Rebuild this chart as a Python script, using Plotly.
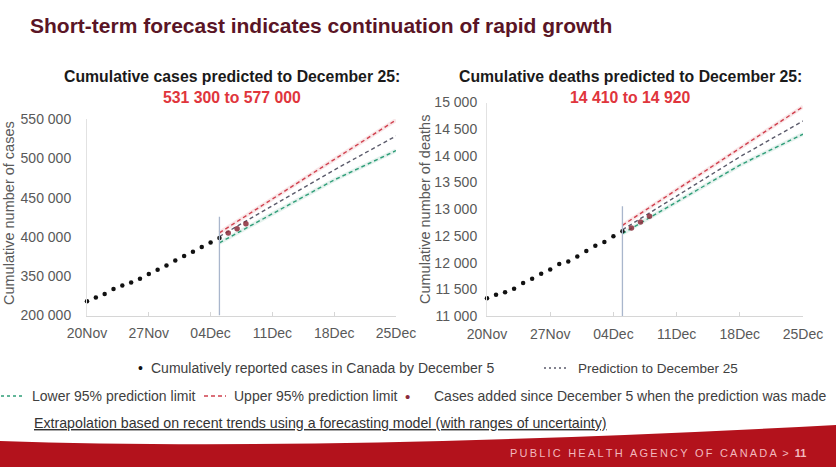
import plotly.graph_objects as go

W, H = 836, 467

# ---------------- data ----------------
reported_dates = ["2020-11-%02d" % d for d in range(20, 31)] + ["2020-12-%02d" % d for d in range(1, 6)]
cases_reported = [318000, 323000, 327400, 333700, 338300, 342100, 346800, 352800,
                  358200, 363700, 370000, 375600, 381100, 387100, 392900, 398500]
deaths_reported = [11334, 11398, 11447, 11511, 11616, 11699, 11792, 11873,
                   11973, 12023, 12117, 12217, 12318, 12386, 12493, 12587]

added_dates = ["2020-12-06", "2020-12-07", "2020-12-08"]
cases_added = [405000, 410300, 416600]
deaths_added = [12649, 12762, 12869]

pred_dates = ["2020-12-05", "2020-12-18", "2020-12-25"]
cases_pred = [400500, 485200, 528400]
cases_upper = [405200, 497900, 548700]
cases_lower = [392500, 472500, 509800]
deaths_pred = [12615, 13982, 14653]
deaths_upper = [12699, 14140, 14921]
deaths_lower = [12544, 13826, 14408]

prediction_date = "2020-12-05"
cases_marker_top = 425500
deaths_marker_top = 13056

x_tickvals = ["2020-11-20", "2020-11-27", "2020-12-04", "2020-12-11", "2020-12-18", "2020-12-25"]
x_ticktext = ["20Nov", "27Nov", "04Dec", "11Dec", "18Dec", "25Dec"]
cases_tickvals = [300000, 350000, 400000, 450000, 500000, 550000]
cases_ticktext = ["200 000", "350 000", "400 000", "450 000", "500 000", "550 000"]
deaths_tickvals = [11000, 11500, 12000, 12500, 13000, 13500, 14000, 14500, 15000]
deaths_ticktext = ["11 000", "11 500", "12 000", "12 500", "13 000", "13 500", "14 000", "14 500", "15 000"]

# ---------------- style ----------------
FONT = "Liberation Sans, Arial, sans-serif"
C_PRED = "#5b5b6b"
C_UP = "#d0404e"
C_LOW = "#2f9e78"
C_ADDED = "#8b2b3a"
C_TICK = "#595959"


def px(x):
    return x / W


def py(y):
    return 1 - y / H


fig = go.Figure()


def add_panel(xa, ya, rep, added, pred, up, low):
    for ys, col in [(up, C_UP), (low, C_LOW)]:
        fig.add_trace(go.Scatter(x=pred_dates, y=ys, mode="lines", xaxis=xa, yaxis=ya,
                                 line=dict(color=col, width=4), opacity=0.12,
                                 showlegend=False, hoverinfo="skip"))
    for ys, col in [(up, C_UP), (pred, C_PRED), (low, C_LOW)]:
        fig.add_trace(go.Scatter(x=pred_dates, y=ys, mode="lines", xaxis=xa, yaxis=ya,
                                 line=dict(color=col, width=1.4, dash="4px,3px"),
                                 showlegend=False))
    fig.add_trace(go.Scatter(x=reported_dates, y=rep, mode="markers", xaxis=xa, yaxis=ya,
                             marker=dict(color="#111111", size=4.5), cliponaxis=False,
                             showlegend=False))
    fig.add_trace(go.Scatter(x=added_dates, y=added, mode="markers", xaxis=xa, yaxis=ya,
                             marker=dict(color=C_ADDED, size=5.5, opacity=0.85),
                             cliponaxis=False, showlegend=False))


add_panel("x", "y", cases_reported, cases_added, cases_pred, cases_upper, cases_lower)
add_panel("x2", "y2", deaths_reported, deaths_added, deaths_pred, deaths_upper, deaths_lower)

xaxis_common = dict(type="date", range=["2020-11-20", "2020-12-25"], tickvals=x_tickvals,
                    ticktext=x_ticktext, showgrid=False, zeroline=False, showline=True,
                    linecolor="#d6d6d6", linewidth=1, ticks="inside", ticklen=4,
                    tickcolor="#d6d6d6", tickfont=dict(family=FONT, size=14, color=C_TICK),
                    ticklabelstandoff=5, automargin=False)
yaxis_common = dict(showgrid=False, zeroline=False, showline=True, linecolor="#e2e2e2",
                    linewidth=1, ticks="", tickfont=dict(family=FONT, size=14, color=C_TICK),
                    automargin=False)

fig.update_layout(
    width=W, height=H, autosize=False,
    margin=dict(l=0, r=0, t=0, b=0, autoexpand=False),
    paper_bgcolor="white", plot_bgcolor="white",
    xaxis=dict(domain=[px(87), px(396)], anchor="y", **xaxis_common),
    yaxis=dict(domain=[py(315.5), py(119)], anchor="x", range=[300000, 550000],
               tickvals=cases_tickvals, ticktext=cases_ticktext, ticklabelstandoff=12,
               **yaxis_common),
    xaxis2=dict(domain=[px(487), px(803)], anchor="y2", **xaxis_common),
    yaxis2=dict(domain=[py(316), py(102.5)], anchor="x2", range=[11000, 15000],
                tickvals=deaths_tickvals, ticktext=deaths_ticktext, ticklabelstandoff=6,
                **yaxis_common),
)

shapes = []
# prediction date marker lines
shapes.append(dict(type="line", xref="x", yref="y", x0=prediction_date, x1=prediction_date,
                   y0=300000, y1=cases_marker_top, line=dict(color="#a9b6cc", width=1.3)))
shapes.append(dict(type="line", xref="x2", yref="y2", x0=prediction_date, x1=prediction_date,
                   y0=11000, y1=deaths_marker_top, line=dict(color="#a9b6cc", width=1.3)))
# legend samples
shapes.append(dict(type="line", xref="paper", yref="paper", x0=px(1), x1=px(25), y0=py(396), y1=py(396),
                   line=dict(color=C_LOW, width=1.5, dash="3px,3px")))
shapes.append(dict(type="line", xref="paper", yref="paper", x0=px(204), x1=px(226), y0=py(396), y1=py(396),
                   line=dict(color=C_UP, width=1.5, dash="4px,3px")))
shapes.append(dict(type="line", xref="paper", yref="paper", x0=px(544), x1=px(566), y0=py(368), y1=py(368),
                   line=dict(color=C_PRED, width=1.5, dash="2px,3px")))
# footer band
band = "M 0,{a} Q {b},{c} {d},{e} L {d},0 L 0,0 Z".format(
    a=py(441), b=px(330), c=py(452), d=1, e=py(425))
shapes.append(dict(type="path", xref="paper", yref="paper", path=band,
                   fillcolor="#b3121c", line=dict(width=0), layer="above"))
fig.update_layout(shapes=shapes)

ann = []


def text(x, y, s, size=14, color="#404040", xanchor="left", bold=False, angle=0):
    if bold:
        s = "<b>" + s + "</b>"
    ann.append(dict(x=px(x), y=py(y), xref="paper", yref="paper", text=s, showarrow=False,
                    xanchor=xanchor, yanchor="middle", textangle=angle,
                    font=dict(family=FONT, size=size, color=color)))


text(28, 26, "Short-term forecast indicates continuation of rapid growth", size=21,
     color="#5a1526", bold=True)
text(232, 76, "Cumulative cases predicted to December 25:", size=15.8, color="#1a1a1a",
     xanchor="center", bold=True)
text(232, 97, "531 300 to 577 000", size=15.8, color="#e0353c", xanchor="center", bold=True)
text(630, 76, "Cumulative deaths predicted to December 25:", size=15.8, color="#1a1a1a",
     xanchor="center", bold=True)
text(630, 97, "14 410 to 14 920", size=15.8, color="#e0353c", xanchor="center", bold=True)
text(9, 213, "Cumulative number of cases", size=14.5, color=C_TICK, xanchor="center", angle=-90)
text(425, 210, "Cumulative number of deaths", size=14.5, color=C_TICK, xanchor="center", angle=-90)

# legend
text(136, 368, "•", size=14, color="#111111")
text(149, 368, "Cumulatively reported cases in Canada by December 5")
text(576, 368, "Prediction to December 25", size=13.5)
text(30, 396, "Lower 95% prediction limit")
text(232, 396, "Upper 95% prediction limit")
text(403, 396, "•", size=15, color=C_ADDED)
text(432, 396, "Cases added since December 5 when the prediction was made")
text(32, 423, "<u>Extrapolation based on recent trends using a forecasting model (with ranges of uncertainty)</u>",
     size=14.2, color="#333333")

footer = "\u2009".join("PUBLIC HEALTH AGENCY OF CANADA")
text(508, 453, footer + "  >  <b>11</b>", size=11, color="#f2b8be")

fig.update_layout(annotations=ann)

fig.write_html("out.html")
